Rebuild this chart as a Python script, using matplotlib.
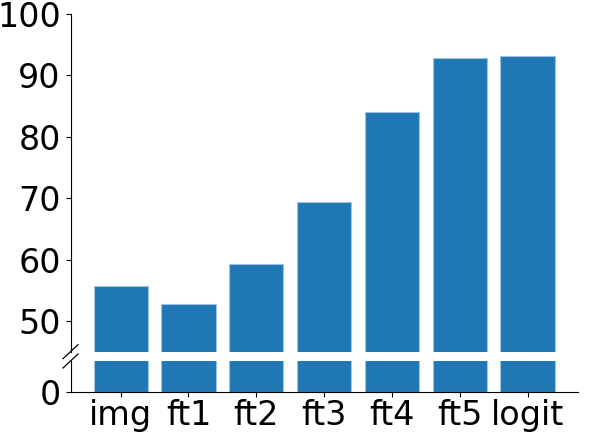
import matplotlib
matplotlib.use("Agg")
import matplotlib.pyplot as plt

# data
labels = ['img', 'ft1', 'ft2', 'ft3', 'ft4', 'ft5', 'logit']
scores = [55.7, 52.8, 59.3, 69.4, 84.0, 92.8, 93.1]

fig = plt.figure(figsize=(5.98, 4.46), dpi=100)
W, H = 598.0, 446.0
left, right = 70.5 / W, 577.7 / W
top_ax = fig.add_axes([left, 1 - 351.7 / H, right - left, (351.7 - 14) / H])
bot_ax = fig.add_axes([left, 1 - 391.7 / H, right - left, (391.7 - 361) / H])

x = range(len(labels))
for ax in (top_ax, bot_ax):
    ax.bar(x, scores, width=0.8, color='#1f77b4', edgecolor='#9ec4e4', linewidth=0.8)
    ax.spines['right'].set_visible(False)
    ax.spines['top'].set_visible(False)
    ax.tick_params(labelsize=24)

top_ax.set_ylim(45, 100)
top_ax.set_yticks([50, 60, 70, 80, 90, 100])
top_ax.spines['bottom'].set_visible(False)
top_ax.tick_params(axis='x', bottom=False, labelbottom=False)

bot_ax.set_ylim(0, 5)
bot_ax.set_yticks([0])
bot_ax.set_xticks(list(x))
bot_ax.set_xticklabels(labels)
bot_ax.tick_params(axis='x', pad=2)

# break marks on the left spine
dx = 7.5 / (577.7 - 70.5)
for ax, h_px, y0 in ((top_ax, 337.7, 0), (bot_ax, 30.7, 1)):
    dy = 7.0 / h_px
    ax.plot([-dx, dx], [y0 - dy, y0 + dy], transform=ax.transAxes,
            color='k', lw=0.9, clip_on=False)

plt.savefig('out.png')
